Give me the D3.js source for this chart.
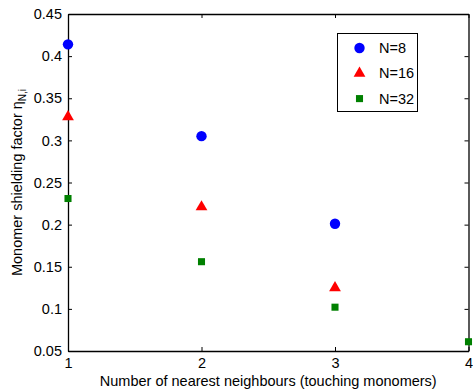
<!DOCTYPE html>
<html>
<head>
<meta charset="utf-8">
<script src="https://cdn.jsdelivr.net/npm/d3@7"></script>
<style>
body { margin: 0; background: #fff; }
svg text { font-family: "Liberation Sans", Arial, sans-serif; fill: #000; }
</style>
</head>
<body>
<div id="chart"></div>
<script>
"use strict";

// data
var neighbours = [1, 2, 3, 4];
var n8 = [0.414, 0.305, 0.201];
var n16 = [0.328, 0.221, 0.125];
var n32 = [0.231, 0.156, 0.102, 0.061];
var xTicks = [1, 2, 3, 4];
var yTicks = [0.05, 0.1, 0.15, 0.2, 0.25, 0.3, 0.35, 0.4, 0.45];
var seriesNames = ["N=8", "N=16", "N=32"];

var width = 473, height = 390;
var margin = { left: 68, top: 14, right: 4.5, bottom: 39 };
var fs = 14.5;

var svg = d3.select("#chart").append("svg")
    .attr("width", width)
    .attr("height", height);

var x = d3.scaleLinear().domain([1, 4])
    .range([margin.left, width - margin.right]);
var y = d3.scaleLinear().domain([0.05, 0.45])
    .range([height - margin.bottom, margin.top]);

function fmt(v) { return String(+v.toFixed(2)); }

// axes with inward ticks, mirrored on top and right
svg.append("g")
    .attr("transform", "translate(0," + y.range()[0] + ")")
    .call(d3.axisBottom(x).tickValues(xTicks).tickSizeInner(-4).tickSizeOuter(0)
        .tickPadding(7).tickFormat(fmt))
    .call(function(g) {
        g.selectAll("text").attr("font-size", fs).attr("dy", "0.71em");
    });
svg.append("g")
    .attr("transform", "translate(0," + y.range()[1] + ")")
    .call(d3.axisTop(x).tickValues(xTicks).tickSizeInner(-4).tickSizeOuter(0)
        .tickFormat(""));
svg.append("g")
    .attr("transform", "translate(" + x.range()[0] + ",0)")
    .call(d3.axisLeft(y).tickValues(yTicks).tickSizeInner(-4).tickSizeOuter(0)
        .tickPadding(6).tickFormat(fmt))
    .call(function(g) { g.selectAll("text").attr("font-size", fs); });
svg.append("g")
    .attr("transform", "translate(" + x.range()[1] + ",0)")
    .call(d3.axisRight(y).tickValues(yTicks).tickSizeInner(-4).tickSizeOuter(0)
        .tickFormat(""));

svg.selectAll(".domain").attr("stroke", "#000").attr("stroke-width", 1.3);
svg.selectAll(".tick line").attr("stroke", "#000");

// axis titles
svg.append("text")
    .attr("x", (x.range()[0] + x.range()[1]) / 2)
    .attr("y", 386)
    .attr("text-anchor", "middle")
    .attr("font-size", fs)
    .text("Number of nearest neighbours (touching monomers)");

var ylab = svg.append("text")
    .attr("transform", "translate(22," + (y.range()[0] + y.range()[1]) / 2 + ") rotate(-90)")
    .attr("text-anchor", "middle")
    .attr("font-size", fs);
ylab.append("tspan").text("Monomer shielding factor \u03b7");
ylab.append("tspan").attr("font-size", 10).attr("dy", 4).text("N,i");

// markers
var circ = d3.symbol().type(d3.symbolCircle).size(85);
var tri = d3.symbol().type(d3.symbolTriangle).size(60);
var sq = d3.symbol().type(d3.symbolSquare).size(50);

function drawSeries(vals, sym, color) {
    svg.append("g").selectAll("path")
        .data(vals)
        .enter()
        .append("path")
        .attr("d", sym)
        .attr("fill", color)
        .attr("transform", function(d, i) {
            return "translate(" + x(neighbours[i]) + "," + y(d) + ")";
        });
}
drawSeries(n8, circ, "#0000ff");
drawSeries(n16, tri, "#ff0000");
drawSeries(n32, sq, "#008000");

// legend
var lg = svg.append("g").attr("transform", "translate(337.5,33.5)");
lg.append("rect")
    .attr("width", 80).attr("height", 78)
    .attr("fill", "#fff").attr("stroke", "#000").attr("stroke-width", 1);
var legSyms = [circ, tri, sq];
var legCols = ["#0000ff", "#ff0000", "#008000"];
seriesNames.forEach(function(name, i) {
    var cy = 14.5 + i * 25.3;
    lg.append("path")
        .attr("d", legSyms[i])
        .attr("fill", legCols[i])
        .attr("transform", "translate(22," + cy + ")");
    lg.append("text")
        .attr("x", 41.5).attr("y", cy)
        .attr("dy", "0.35em")
        .attr("font-size", fs)
        .text(name);
});
</script>
</body>
</html>
